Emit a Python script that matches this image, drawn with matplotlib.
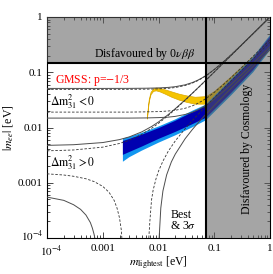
import matplotlib
matplotlib.use("Agg")
import matplotlib.pyplot as plt
from matplotlib.transforms import ScaledTranslation

plt.rcParams['font.family'] = ['Liberation Serif', 'DejaVu Serif']
plt.rcParams['mathtext.fontset'] = 'stix'

# ---------------- data ----------------
bound_0nbb = 0.15      # |m_ee| upper limit from 0vbb
bound_cosmo = 0.071    # m_lightest limit from cosmology

m_io = [1e-4, 1e-3, 3e-3, 0.006, 0.01, 0.015, 0.02, 0.03, 0.04, 0.05, 0.06,
        0.07, 0.08, 0.1, 0.15, 0.2, 0.3, 0.5, 1.0]
io_up_best = [0.049, 0.049, 0.0491, 0.0494, 0.0500, 0.0512, 0.0529, 0.0575, 0.0633,
              0.0700, 0.0775, 0.0854, 0.0938, 0.1114, 0.158, 0.206, 0.304, 0.502, 1.0]
io_up_3s = [0.051, 0.051, 0.0511, 0.0514, 0.0520, 0.0532, 0.0548, 0.0592, 0.0648,
            0.0714, 0.0787, 0.0866, 0.0949, 0.1123, 0.1584, 0.2064, 0.3043, 0.5026, 1.0]
io_lo_best = [0.0190, 0.0190, 0.0190, 0.0192, 0.0194, 0.0199, 0.0205, 0.0223, 0.0245,
              0.0272, 0.0301, 0.0331, 0.0364, 0.0432, 0.0612, 0.0799, 0.118, 0.195, 0.388]
io_lo_3s = [0.0148, 0.0148, 0.0148, 0.0149, 0.0151, 0.0154, 0.0159, 0.0172, 0.0188,
            0.0207, 0.0228, 0.0251, 0.0275, 0.0326, 0.0459, 0.0599, 0.0882, 0.1458, 0.290]

m_no = [1e-4, 3e-4, 1e-3, 2e-3, 3e-3, 5e-3, 0.0075, 0.01, 0.015, 0.02, 0.03,
        0.04, 0.05, 0.07, 0.1, 0.2, 0.5, 1.0]
no_up_best = [0.00378, 0.00392, 0.00441, 0.00514, 0.0059, 0.00751, 0.00965, 0.01189,
              0.01654, 0.02132, 0.03105, 0.04089, 0.05078, 0.07065, 0.10057, 0.2006,
              0.5011, 1.0]
no_up_3s = [0.00475, 0.00488, 0.00534, 0.00604, 0.00677, 0.00833, 0.0104, 0.0126,
            0.01717, 0.02189, 0.03154, 0.04133, 0.05119, 0.07104, 0.10095, 0.2011,
            0.5021, 1.004]

m_no_lo_left_best = [1e-4, 2e-4, 3e-4, 5e-4, 7e-4, 1e-3, 1.3e-3, 1.6e-3, 1.8e-3,
                     2.0e-3, 2.15e-3, 2.2e-3]
no_lo_left_best = [0.00145, 0.00138, 0.00131, 0.00118, 0.00105, 0.00086, 0.00067,
                   0.00048, 0.00035, 0.00023, 0.00014, 0.0001]
m_no_lo_left_3s = [1e-4, 2e-4, 3e-4, 4e-4, 5e-4, 6e-4, 6.5e-4, 7e-4, 7.2e-4]
no_lo_left_3s = [0.00055, 0.00048, 0.00040, 0.00033, 0.00026, 0.00019, 0.000152,
                 0.000116, 0.0001]

m_no_lo_right_best = [0.0067, 0.007, 0.0075, 0.008, 0.009, 0.01, 0.012, 0.015, 0.02,
                      0.03, 0.04, 0.05, 0.07, 0.1, 0.2, 0.5, 1.0]
no_lo_right_best = [0.0001, 0.0002, 0.00049, 0.00073, 0.00117, 0.00162, 0.00246,
                    0.00374, 0.00572, 0.00951, 0.01319, 0.0168, 0.0240, 0.0346,
                    0.070, 0.175, 0.35]
m_no_lo_right_3s = [0.01027, 0.011, 0.012, 0.014, 0.017, 0.02, 0.03, 0.04, 0.05,
                    0.07, 0.1, 0.2, 0.5, 1.0]
no_lo_right_3s = [0.0001, 0.00035, 0.00071, 0.00139, 0.00238, 0.0033, 0.00625,
                  0.00906, 0.0118, 0.01716, 0.02504, 0.0509, 0.1278, 0.2559]

# blue band (prediction), light = outer, dark = inner
m_blue = [0.0023, 0.003, 0.005, 0.01, 0.02, 0.04, 0.071, 0.1, 0.2, 0.5, 1.0]
blue_light_up = [0.0063, 0.0068, 0.0080, 0.0104, 0.0140, 0.0200, 0.0260, 0.037, 0.075, 0.19, 0.47]
blue_light_lo = [0.0024, 0.0029, 0.0038, 0.0053, 0.0072, 0.0100, 0.0135, 0.019, 0.038, 0.10, 0.25]
blue_dark_up = [0.0057, 0.0062, 0.0074, 0.0097, 0.0132, 0.0188, 0.0245, 0.035, 0.071, 0.18, 0.44]
blue_dark_lo = [0.0032, 0.0036, 0.0045, 0.0062, 0.0083, 0.0114, 0.0150, 0.021, 0.042, 0.11, 0.27]

# yellow band (GMSS p=-1/3)
m_yel = [0.0062, 0.0064, 0.0067, 0.0072, 0.0080, 0.0090, 0.0105, 0.013, 0.017,
         0.023, 0.032, 0.045, 0.071, 0.1, 0.2, 0.5, 1.0]
yel_up = [0.0150, 0.022, 0.033, 0.044, 0.051, 0.053, 0.052, 0.049, 0.045, 0.041,
          0.038, 0.036, 0.037, 0.046, 0.085, 0.20, 0.40]
yel_lo = [0.0145, 0.020, 0.030, 0.040, 0.046, 0.047, 0.045, 0.041, 0.036, 0.032,
          0.029, 0.027, 0.027, 0.034, 0.064, 0.155, 0.31]

x_ticks = [1e-4, 1e-3, 1e-2, 1e-1, 1]
x_ticklabels = [r'$10^{-4}$', '0.001', '0.01', '0.1', '1']
y_ticks = [1e-4, 1e-3, 1e-2, 1e-1, 1]
y_ticklabels = [r'$10^{-4}$', '0.001', '0.01', '0.1', '1']

# ---------------- figure ----------------
W, H = 273, 274
fig = plt.figure(figsize=(W / 100, H / 100), dpi=100)
ax = fig.add_axes([47 / W, (H - 238) / H, (270 - 47) / W, (238 - 17) / H])
ax.set_xscale('log')
ax.set_yscale('log')
ax.set_xlim(1e-4, 1)
ax.set_ylim(1e-4, 1)

# bands
ax.fill_between(m_yel, yel_lo, yel_up, facecolor='#f5c400', edgecolor='#dca800',
                lw=0.5, zorder=2)
ax.fill_between(m_blue, blue_light_lo, blue_light_up, facecolor='#1296f0',
                edgecolor='none', lw=0, zorder=3)
ax.fill_between(m_blue, blue_dark_lo, blue_dark_up, facecolor='#0000b0',
                edgecolor='none', lw=0, zorder=3)

# disfavoured region (grey overlay)
ax.fill([1e-4, bound_cosmo, bound_cosmo, 1, 1, 1e-4],
        [bound_0nbb, bound_0nbb, 1e-4, 1e-4, 1, 1],
        facecolor='0.36', alpha=0.55, edgecolor='none', zorder=4)

# m_ee curves
sol = dict(color='0.3', lw=0.7, zorder=5)
das = dict(color='0.2', lw=0.6, ls=(0, (3, 2)), zorder=5)
ax.plot(m_io, io_up_3s, **sol)
ax.plot(m_io, io_lo_3s, **sol)
ax.plot(m_io, io_up_best, **das)
ax.plot(m_io, io_lo_best, **das)
ax.plot(m_no, no_up_3s, **sol)
ax.plot(m_no, no_up_best, **das)
ax.plot(m_no_lo_left_3s, no_lo_left_3s, **sol)
ax.plot(m_no_lo_left_best, no_lo_left_best, **das)
ax.plot(m_no_lo_right_3s, no_lo_right_3s, **sol)
ax.plot(m_no_lo_right_best, no_lo_right_best, **das)

# bounds
ax.axhline(bound_0nbb, color='k', lw=1.5, zorder=6)
ax.axvline(bound_cosmo, color='k', lw=1.5, zorder=6)

# texts
fs = 8.5
ax.text(0.0057, 0.19, r'Disfavoured by 0$\nu\beta\beta$', ha='center', va='baseline',
        fontsize=fs, zorder=7)
ax.text(1.39e-4, 0.072, r'GMSS: p=$-$1/3', color='red', ha='left', va='center',
        fontsize=fs, zorder=7)
ax.text(1.13e-4, 0.029, r'$\Delta\mathrm{m}^2_{31} < 0$', ha='left', va='center',
        fontsize=fs, zorder=7)
ax.text(1.13e-4, 0.0023, r'$\Delta\mathrm{m}^2_{31} > 0$', ha='left', va='center',
        fontsize=fs, zorder=7)
ax.text(0.0162, 1.45e-4, 'Best\n' + r'& 3$\sigma$', ha='left', va='baseline',
        fontsize=fs, linespacing=0.85, zorder=7)
ax.text(0.39, 0.0041, 'Disfavoured by Cosmology', rotation=90, ha='center',
        va='center', fontsize=fs, zorder=7)

ax.set_xticks(x_ticks)
ax.set_xticklabels(x_ticklabels)
ax.set_yticks(y_ticks)
ax.set_yticklabels(y_ticklabels)
ax.tick_params(which='both', direction='in', top=True, right=True, labelsize=8,
               width=0.5)
ax.tick_params(which='major', length=4, pad=3)
ax.tick_params(which='minor', length=2)
ax.tick_params(axis='x', which='major', pad=4)
for s in ax.spines.values():
    s.set_linewidth(0.8)

# nudge the corner labels apart (as in the reference)
ax.get_yticklabels()[0].set_transform(
    ax.get_yticklabels()[0].get_transform() + ScaledTranslation(0, 2 / 72, fig.dpi_scale_trans))
ax.get_xticklabels()[0].set_transform(
    ax.get_xticklabels()[0].get_transform() + ScaledTranslation(3 / 72, 0, fig.dpi_scale_trans))

ax.set_xlabel(r'$m_{\rm lightest}$ [eV]', fontsize=fs, va='center')
ax.xaxis.set_label_coords(0.5, -0.11)
ax.set_ylabel(r'$|m_{ee}|$ [eV]', fontsize=fs, labelpad=2)

fig.savefig('out.png', dpi=100)
